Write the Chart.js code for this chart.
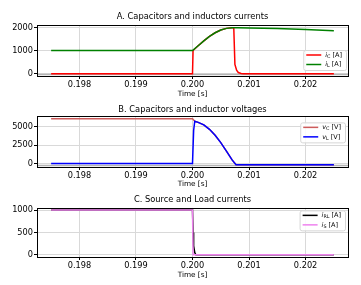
<!DOCTYPE html>
<html>
<head>
<meta charset="utf-8">
<script src="https://cdn.jsdelivr.net/npm/chart.js@4.4.1/dist/chart.umd.min.js"></script>
<style>
  body { margin: 0; background: #fff; }
  canvas { position: absolute; left: 0; }
</style>
</head>
<body>
<canvas id="chartA" width="361" height="98" style="top:0px"></canvas>
<canvas id="chartB" width="361" height="91" style="top:97px"></canvas>
<canvas id="chartC" width="361" height="91" style="top:188px"></canvas>
<script>
// shared time axis
const xTicks = [0.198, 0.199, 0.200, 0.201, 0.202];

// A. capacitor / inductor currents
const iL_t = [0.1975, 0.2000, 0.2001, 0.2002, 0.2003, 0.2004, 0.2005, 0.2006, 0.2007, 0.2008, 0.2010, 0.2015, 0.2020, 0.2025];
const iL_v = [1000, 1000, 1210, 1420, 1610, 1770, 1890, 1960, 1990, 1990, 1980, 1955, 1915, 1860];
const iC_t = [0.1975, 0.2000, 0.20001, 0.2001, 0.2002, 0.2003, 0.2004, 0.2005, 0.2006, 0.2007, 0.20073, 0.20075, 0.20078, 0.20081, 0.20086, 0.2009, 0.2025];
const iC_v = [0, 0, 1000, 1210, 1420, 1610, 1770, 1890, 1960, 1990, 1990, 400, 150, 50, 10, 0, 0];
const yTicksA = [0, 1000, 2000];

// B. capacitor / inductor voltages
const vC_t = [0.1975, 0.2000, 0.20004, 0.2001, 0.2002, 0.2003, 0.2004, 0.2005, 0.2006, 0.2007, 0.20077, 0.2025];
const vC_v = [6100, 6100, 5750, 5600, 5250, 4650, 3850, 2850, 1700, 500, -150, -150];
const vL_t = [0.1975, 0.2000, 0.20002, 0.20004, 0.2001, 0.2002, 0.2003, 0.2004, 0.2005, 0.2006, 0.2007, 0.20077, 0.2025];
const vL_v = [0, 0, 4500, 5750, 5600, 5250, 4650, 3850, 2850, 1700, 500, -150, -150];
const yTicksB = [0, 2500, 5000];

// C. source / load currents
const iRL_t = [0.1975, 0.2000, 0.20001, 0.20002, 0.20004, 0.20006, 0.2025];
const iRL_v = [1000, 1000, 500, 200, 50, 0, 0];
const iS_t = [0.1975, 0.2000, 0.20001, 0.2025];
const iS_v = [1000, 1000, 0, 0];
const yTicksC = [0, 500, 1000];

Chart.defaults.font.family = "'DejaVu Sans', sans-serif";
Chart.defaults.color = '#000';

function pts(ts, vs) {
    return ts.map((t, i) => ({ x: t, y: vs[i] }));
}

// grey band under the lines, spines on top of them (like matplotlib)
const frame = {
    id: 'frame',
    beforeDatasetsDraw(chart, args, opts) {
        if (!opts.band) return;
        const { ctx, chartArea: a } = chart;
        ctx.save();
        ctx.strokeStyle = '#b4b4b4';
        ctx.lineWidth = 1.5;
        ctx.beginPath();
        ctx.moveTo(a.left, a.bottom - 1.5);
        ctx.lineTo(a.right, a.bottom - 1.5);
        ctx.stroke();
        ctx.restore();
    },
    afterDatasetsDraw(chart) {
        const { ctx, chartArea: a } = chart;
        ctx.save();
        ctx.strokeStyle = '#000';
        ctx.lineWidth = 1;
        ctx.strokeRect(Math.round(a.left) + 0.5, Math.round(a.top) + 0.5,
            Math.round(a.right - a.left), Math.round(a.bottom - a.top));
        ctx.restore();
    }
};

// legend with subscripts, drawn inside the axes
const mathLegend = {
    id: 'mathLegend',
    afterDraw(chart, args, opts) {
        const { ctx, chartArea: a } = chart;
        const items = opts.items || [];
        const fs = 6.5, ss = 4.8, rowH = 9.5;
        ctx.save();
        const widths = items.map(it => {
            ctx.font = `italic ${fs}px 'DejaVu Sans'`;
            let w = ctx.measureText(it.base).width;
            ctx.font = `${ss}px 'DejaVu Sans'`;
            w += ctx.measureText(it.sub).width;
            ctx.font = `${fs}px 'DejaVu Sans'`;
            w += ctx.measureText(it.unit).width;
            return w;
        });
        const boxW = 3 + 15 + 4 + Math.max(...widths) + 4;
        const boxH = items.length * rowH + 1;
        const right = a.right - opts.dx;
        const left = right - boxW;
        const top = opts.loc === 'lower' ? a.bottom - opts.dy - boxH : a.top + opts.dy;

        ctx.fillStyle = 'rgba(255,255,255,0.85)';
        ctx.strokeStyle = '#d6d6d6';
        ctx.lineWidth = 1;
        ctx.beginPath();
        ctx.roundRect(left + 0.5, top + 0.5, boxW, boxH, 2);
        ctx.fill();
        ctx.stroke();

        items.forEach((it, i) => {
            const y = top + 5 + i * rowH;
            ctx.strokeStyle = it.color;
            ctx.lineWidth = 1.5;
            ctx.beginPath();
            ctx.moveTo(left + 3, y);
            ctx.lineTo(left + 18, y);
            ctx.stroke();
            let x = left + 22;
            ctx.fillStyle = '#000';
            ctx.textBaseline = 'middle';
            ctx.font = `italic ${fs}px 'DejaVu Sans'`;
            ctx.fillText(it.base, x, y);
            x += ctx.measureText(it.base).width;
            ctx.font = `${ss}px 'DejaVu Sans'`;
            ctx.fillText(it.sub, x, y + 1.5);
            x += ctx.measureText(it.sub).width;
            ctx.font = `${fs}px 'DejaVu Sans'`;
            ctx.fillText(it.unit, x, y);
        });
        ctx.restore();
    }
};

function makePanel(id, cfg) {
    const canvas = document.getElementById(id);
    const xAxisH = canvas.height - (cfg.plotBottom - cfg.top);
    return new Chart(canvas, {
        type: 'line',
        data: {
            datasets: cfg.series.map(s => ({
                data: pts(s.t, s.v),
                borderColor: s.color,
                borderWidth: 1.5,
                pointRadius: 0,
                tension: 0,
                fill: false,
                order: s.order
            }))
        },
        options: {
            responsive: false,
            animation: false,
            devicePixelRatio: 1,
            layout: { padding: { left: 0, right: 13, top: 0, bottom: 0 } },
            plugins: {
                legend: { display: false },
                tooltip: { enabled: false },
                title: {
                    display: true,
                    fullSize: false,
                    text: cfg.title,
                    font: { size: 8.3, weight: 'normal' },
                    padding: { top: cfg.titleTop, bottom: cfg.titleBottom }
                },
                frame: { band: cfg.band },
                mathLegend: cfg.legend
            },
            scales: {
                x: {
                    type: 'linear',
                    min: 0.19725,
                    max: 0.20275,
                    afterBuildTicks: scale => { scale.ticks = xTicks.map(v => ({ value: v })); },
                    afterFit: scale => { scale.height = xAxisH; },
                    ticks: {
                        padding: 1,
                        font: { size: 8.2 },
                        callback: v => v.toFixed(3)
                    },
                    grid: { color: '#d9d9d9', tickColor: '#000', tickLength: 3 },
                    border: { display: false },
                    title: {
                        display: true,
                        text: 'Time [s]',
                        font: { size: 7.3 },
                        padding: { top: 0, bottom: 0 }
                    }
                },
                y: {
                    min: cfg.yMin,
                    max: cfg.yMax,
                    afterBuildTicks: scale => { scale.ticks = cfg.yTicks.map(v => ({ value: v })); },
                    afterFit: scale => { scale.width = 37; },
                    ticks: { padding: 1, font: { size: 8.2 }, callback: v => String(v) },
                    grid: { color: '#d9d9d9', tickColor: '#000', tickLength: 3 },
                    border: { display: false }
                }
            }
        },
        plugins: [frame, mathLegend]
    });
}

makePanel('chartA', {
    top: 0, plotBottom: 76, titleTop: 12, titleBottom: 3.4, band: true,
    title: 'A. Capacitors and inductors currents',
    yMin: -100, yMax: 2090, yTicks: yTicksA,
    series: [
        { t: iC_t, v: iC_v, color: '#ff0000', order: 2 },
        { t: iL_t, v: iL_v, color: '#008000', order: 1 }
    ],
    legend: {
        loc: 'lower', dx: 2, dy: 6,
        items: [
            { base: 'i', sub: 'C', unit: ' [A]', color: '#ff0000' },
            { base: 'i', sub: 'L', unit: ' [A]', color: '#008000' }
        ]
    }
});

makePanel('chartB', {
    top: 97, plotBottom: 167, titleTop: 8.2, titleBottom: 1.2, band: true,
    title: 'B. Capacitors and inductor voltages',
    yMin: -462, yMax: 6412, yTicks: yTicksB,
    series: [
        { t: vC_t, v: vC_v, color: '#cd5c5c', order: 2 },
        { t: vL_t, v: vL_v, color: '#0000ff', order: 1 }
    ],
    legend: {
        loc: 'upper', dx: 3, dy: 6,
        items: [
            { base: 'v', sub: 'C', unit: ' [V]', color: '#cd5c5c' },
            { base: 'v', sub: 'L', unit: ' [V]', color: '#0000ff' }
        ]
    }
});

makePanel('chartC', {
    top: 188, plotBottom: 257, titleTop: 7.2, titleBottom: 2.7, band: false,
    title: 'C. Source and Load currents',
    yMin: -50, yMax: 1050, yTicks: yTicksC,
    series: [
        { t: iRL_t, v: iRL_v, color: '#000000', order: 2 },
        { t: iS_t, v: iS_v, color: '#ee82ee', order: 1 }
    ],
    legend: {
        loc: 'upper', dx: 3, dy: 2.5,
        items: [
            { base: 'i', sub: 'RL', unit: ' [A]', color: '#000000' },
            { base: 'i', sub: 'S', unit: ' [A]', color: '#ee82ee' }
        ]
    }
});
</script>
</body>
</html>
